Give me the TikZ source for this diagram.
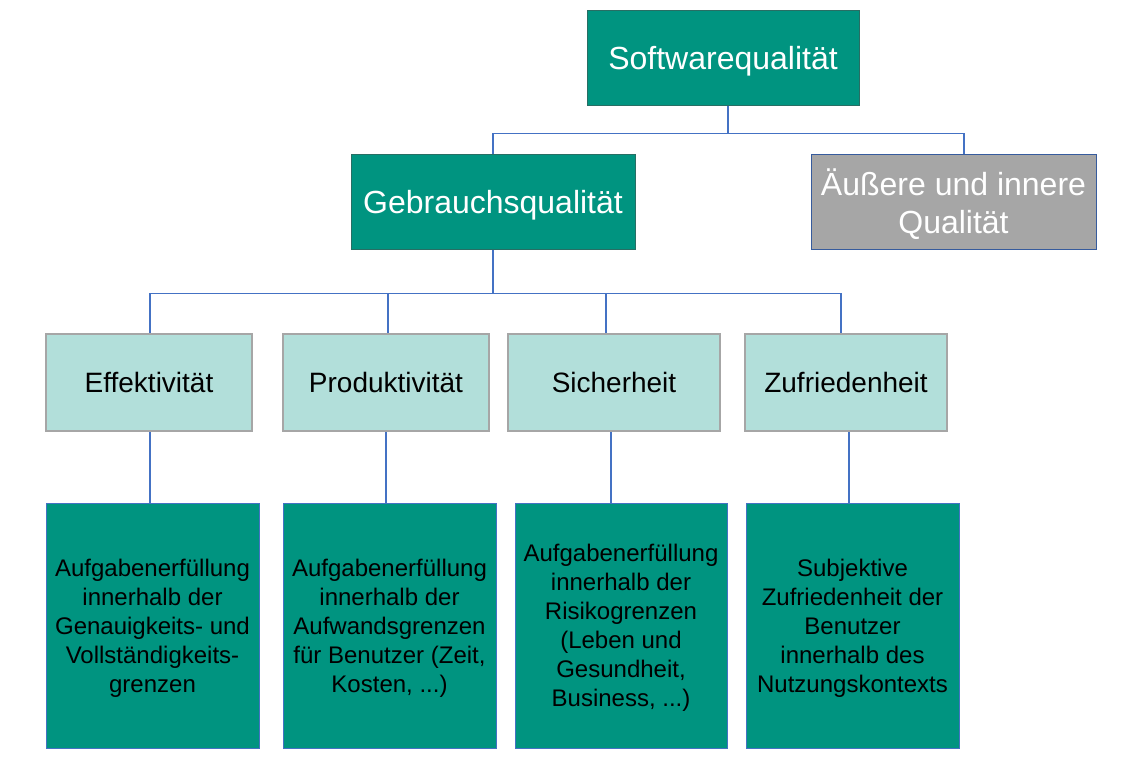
\documentclass[tikz,border=0pt]{standalone}
\usepackage{fontspec}
\setmainfont{Liberation Sans}
\usetikzlibrary{positioning}
\definecolor{sqteal}{RGB}{0,148,128}
\definecolor{sqlight}{RGB}{178,223,218}
\definecolor{sqgray}{RGB}{166,166,166}
\definecolor{sqblue}{RGB}{68,114,196}
\definecolor{sqedge}{RGB}{40,110,100}
\tikzstyle{mainbox} = [rectangle, draw=sqedge, line width=1pt, fill=sqteal, text=white, align=center, inner sep=0pt, text depth=0pt, font=\fontsize{32}{38}\selectfont]
\tikzstyle{outerbox} = [mainbox, fill=sqgray, draw=sqblue!80!black]
\tikzstyle{critbox} = [rectangle, draw=sqgray, line width=2pt, fill=sqlight, align=center, inner sep=0pt, text depth=0pt, minimum height=97pt, font=\fontsize{28}{34}\selectfont]
\tikzstyle{descbox} = [rectangle, draw=sqblue, line width=0.8pt, fill=sqteal, align=center, inner sep=0pt, text depth=0pt, minimum height=245pt, font=\fontsize{24}{29}\selectfont]
\tikzstyle{link} = [draw=sqblue, line width=1.3pt]

\begin{document}
\begin{tikzpicture}[x=1pt, y=-1pt]
  \useasboundingbox (0,0) rectangle (1134,766);

  % Top levels
  \node[mainbox, minimum width=272pt, minimum height=95pt] (sw) at (723,57.5) {Softwarequalität};
  \node[mainbox, minimum width=284pt, minimum height=95pt] (gq) at (493,201.5) {Gebrauchsqualität};
  \node[outerbox, minimum width=285pt, minimum height=95pt] (aq) at (953.5,201.5) {Äußere und innere\\Qualität};

  % Criteria
  \node[critbox, minimum width=206pt] (eff) at (149,382.5) {Effektivität};
  \node[critbox, minimum width=206pt] (prod) at (386,382.5) {Produktivität};
  \node[critbox, minimum width=212pt] (sich) at (614,382.5) {Sicherheit};
  \node[critbox, minimum width=202pt] (zuf) at (846,382.5) {Zufriedenheit};

  % Descriptions
  \node[descbox, minimum width=213pt] (effd) at (152.5,625.5) {Aufgabenerfüllung\\innerhalb der\\Genauigkeits- und\\Vollständigkeits-\\grenzen};
  \node[descbox, minimum width=213pt] (prodd) at (389.5,625.5) {Aufgabenerfüllung\\innerhalb der\\Aufwandsgrenzen\\für Benutzer (Zeit,\\Kosten, ...)};
  \node[descbox, minimum width=212pt] (sichd) at (621,625.5) {Aufgabenerfüllung\\innerhalb der\\Risikogrenzen\\(Leben und\\Gesundheit,\\Business, ...)};
  \node[descbox, minimum width=213pt] (zufd) at (852.5,625.5) {Subjektive\\Zufriedenheit der\\Benutzer\\innerhalb des\\Nutzungskontexts};

  % Connectors
  \draw[link] ([xshift=5pt]sw.south) -- ++(0,28) coordinate (topbus) -| (gq.north);
  \draw[link] (topbus) -| ([xshift=10.5pt]aq.north);
  \draw[link] (gq.south) -- ++(0,44) coordinate (midbus);
  \foreach \n/\dx in {eff/1,prod/2,sich/-8,zuf/-5}
    \draw[link] (midbus) -| ([xshift=\dx pt]\n.north);
  \foreach \n/\dx in {eff/1,prod/0,sich/-3,zuf/3}
    \draw[link] ([xshift=\dx pt]\n.south) -- ([xshift=\dx pt]\n.south |- \n d.north);
\end{tikzpicture}
\end{document}
